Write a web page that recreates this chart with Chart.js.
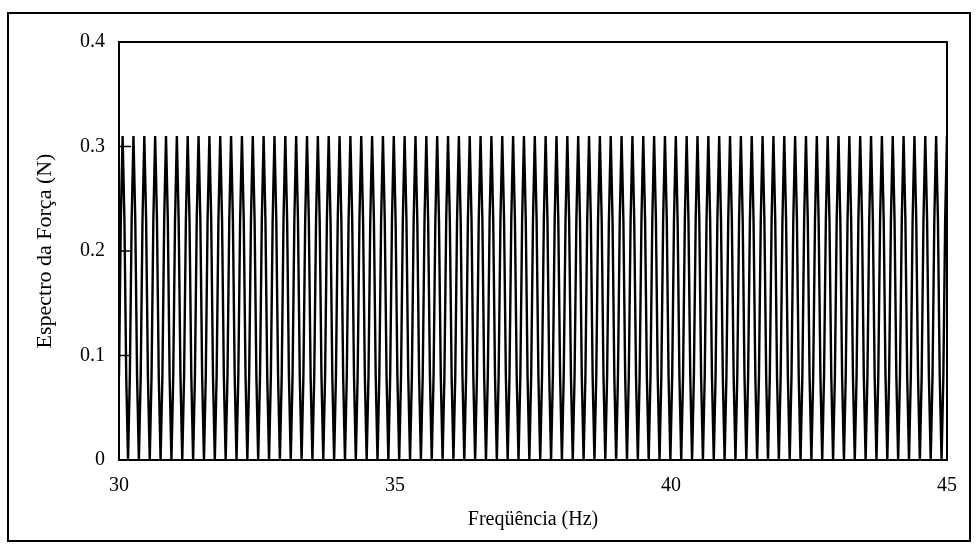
<!DOCTYPE html>
<html>
<head>
<meta charset="utf-8">
<script src="https://cdn.jsdelivr.net/npm/chart.js@4.4.1/dist/chart.umd.min.js"></script>
<style>
  html, body { margin: 0; padding: 0; background: #fff; }
  #wrap { width: 976px; height: 552px; }
</style>
</head>
<body>
<div id="wrap"><canvas id="chart-spectrum"></canvas></div>
<script>
// sampling grid of the spectrum (Hz)
const freqStart = 30;
const freqStep = 0.03275;

// force spectrum (N)
const forceSpectrum = [
  0.08, 0.23,
  0.31, 0.23, 0.08, 0, 0.08, 0.23, 0.31, 0.23, 0.08, 0, 0.08, 0.23, 0.31, 0.23, 0.08, 0, 0.08, 0.23, 0.31, 0.23, 0.08, 0, 0.08, 0.23,
  0.31, 0.23, 0.08, 0, 0.08, 0.23, 0.31, 0.23, 0.08, 0, 0.08, 0.23, 0.31, 0.23, 0.08, 0, 0.08, 0.23, 0.31, 0.23, 0.08, 0, 0.08, 0.23,
  0.31, 0.23, 0.08, 0, 0.08, 0.23, 0.31, 0.23, 0.08, 0, 0.08, 0.23, 0.31, 0.23, 0.08, 0, 0.08, 0.23, 0.31, 0.23, 0.08, 0, 0.08, 0.23,
  0.31, 0.23, 0.08, 0, 0.08, 0.23, 0.31, 0.23, 0.08, 0, 0.08, 0.23, 0.31, 0.23, 0.08, 0, 0.08, 0.23, 0.31, 0.23, 0.08, 0, 0.08, 0.23,
  0.31, 0.23, 0.08, 0, 0.08, 0.23, 0.31, 0.23, 0.08, 0, 0.08, 0.23, 0.31, 0.23, 0.08, 0, 0.08, 0.23, 0.31, 0.23, 0.08, 0, 0.08, 0.23,
  0.31, 0.23, 0.08, 0, 0.08, 0.23, 0.31, 0.23, 0.08, 0, 0.08, 0.23, 0.31, 0.23, 0.08, 0, 0.08, 0.23, 0.31, 0.23, 0.08, 0, 0.08, 0.23,
  0.31, 0.23, 0.08, 0, 0.08, 0.23, 0.31, 0.23, 0.08, 0, 0.08, 0.23, 0.31, 0.23, 0.08, 0, 0.08, 0.23, 0.31, 0.23, 0.08, 0, 0.08, 0.23,
  0.31, 0.23, 0.08, 0, 0.08, 0.23, 0.31, 0.23, 0.08, 0, 0.08, 0.23, 0.31, 0.23, 0.08, 0, 0.08, 0.23, 0.31, 0.23, 0.08, 0, 0.08, 0.23,
  0.31, 0.23, 0.08, 0, 0.08, 0.23, 0.31, 0.23, 0.08, 0, 0.08, 0.23, 0.31, 0.23, 0.08, 0, 0.08, 0.23, 0.31, 0.23, 0.08, 0, 0.08, 0.23,
  0.31, 0.23, 0.08, 0, 0.08, 0.23, 0.31, 0.23, 0.08, 0, 0.08, 0.23, 0.31, 0.23, 0.08, 0, 0.08, 0.23, 0.31, 0.23, 0.08, 0, 0.08, 0.23,
  0.31, 0.23, 0.08, 0, 0.08, 0.23, 0.31, 0.23, 0.08, 0, 0.08, 0.23, 0.31, 0.23, 0.08, 0, 0.08, 0.23, 0.31, 0.23, 0.08, 0, 0.08, 0.23,
  0.31, 0.23, 0.08, 0, 0.08, 0.23, 0.31, 0.23, 0.08, 0, 0.08, 0.23, 0.31, 0.23, 0.08, 0, 0.08, 0.23, 0.31, 0.23, 0.08, 0, 0.08, 0.23,
  0.31, 0.23, 0.08, 0, 0.08, 0.23, 0.31, 0.23, 0.08, 0, 0.08, 0.23, 0.31, 0.23, 0.08, 0, 0.08, 0.23, 0.31, 0.23, 0.08, 0, 0.08, 0.23,
  0.31, 0.23, 0.08, 0, 0.08, 0.23, 0.31, 0.23, 0.08, 0, 0.08, 0.23, 0.31, 0.23, 0.08, 0, 0.08, 0.23, 0.31, 0.23, 0.08, 0, 0.08, 0.23,
  0.31, 0.23, 0.08, 0, 0.08, 0.23, 0.31, 0.23, 0.08, 0, 0.08, 0.23, 0.31, 0.23, 0.08, 0, 0.08, 0.23, 0.31, 0.23, 0.08, 0, 0.08, 0.23,
  0.31, 0.23, 0.08, 0, 0.08, 0.23, 0.31, 0.23, 0.08, 0, 0.08, 0.23, 0.31, 0.23, 0.08, 0, 0.08, 0.23, 0.31, 0.23, 0.08, 0, 0.08, 0.23,
  0.31, 0.23, 0.08, 0, 0.08, 0.23, 0.31, 0.23, 0.08, 0, 0.08, 0.23, 0.31, 0.23, 0.08, 0, 0.08, 0.23, 0.31, 0.23, 0.08, 0, 0.08, 0.23,
  0.31, 0.23, 0.08, 0, 0.08, 0.23, 0.31, 0.23, 0.08, 0, 0.08, 0.23, 0.31, 0.23, 0.08, 0, 0.08, 0.23, 0.31, 0.23, 0.08, 0, 0.08, 0.23,
  0.31, 0.23, 0.08, 0, 0.08, 0.23, 0.31, 0.23, 0.08, 0, 0.08, 0.23, 0.31, 0.23, 0.08, 0, 0.08, 0.23, 0.31, 0.23, 0.08, 0, 0.08, 0.23,
  0.31
];

const xTicks = [30, 35, 40, 45];
const yTicks = [0, 0.1, 0.2, 0.3, 0.4];

const points = forceSpectrum.map((v, i) => ({ x: freqStart + i * freqStep, y: v }));

const serif = 'Liberation Serif, "Times New Roman", serif';

// outer frame + plot box + inward tick marks on the y axis
const framePlugin = {
    id: 'frame',
    beforeDraw(chart) {
        const ctx = chart.ctx;
        ctx.save();
        ctx.fillStyle = '#fff';
        ctx.fillRect(0, 0, chart.width, chart.height);
        ctx.strokeStyle = '#000';
        ctx.lineWidth = 2;
        ctx.strokeRect(8, 13, 962, 528);
        ctx.restore();
    },
    afterDatasetsDraw(chart) {
        const { ctx, chartArea: a, scales } = chart;
        ctx.save();
        ctx.strokeStyle = '#000';
        ctx.lineWidth = 2;
        ctx.strokeRect(a.left, a.top, a.right - a.left, a.bottom - a.top);
        ctx.lineWidth = 1.5;
        yTicks.forEach(t => {
            const y = scales.y.getPixelForValue(t);
            ctx.beginPath();
            ctx.moveTo(a.left, y);
            ctx.lineTo(a.left + 12, y);
            ctx.stroke();
        });
        ctx.restore();
    }
};

new Chart(document.getElementById('chart-spectrum'), {
    type: 'line',
    data: {
        datasets: [{
            label: 'Espectro da Força',
            data: points,
            borderColor: '#000',
            borderWidth: 2.4,
            pointRadius: 0,
            tension: 0,
            fill: false
        }]
    },
    options: {
        responsive: true,
        maintainAspectRatio: false,
        animation: false,
        devicePixelRatio: 1,
        layout: { padding: { top: 42, right: 29, left: 0, bottom: 0 } },
        plugins: { legend: { display: false }, tooltip: { enabled: false } },
        scales: {
            x: {
                type: 'linear',
                min: 30,
                max: 45,
                afterBuildTicks: s => { s.ticks = xTicks.map(v => ({ value: v })); },
                afterFit: s => { s.height = 92; },
                grid: { display: false, drawTicks: false },
                border: { display: false },
                ticks: { color: '#000', padding: 14, font: { family: serif, size: 20 } },
                title: {
                    display: true,
                    text: 'Freqüência (Hz)',
                    color: '#000',
                    padding: { top: 0, bottom: 20 },
                    font: { family: serif, size: 20 }
                }
            },
            y: {
                min: 0,
                max: 0.4,
                afterBuildTicks: s => { s.ticks = yTicks.map(v => ({ value: v })); },
                afterFit: s => { s.width = 119; },
                grid: { display: false, drawTicks: false },
                border: { display: false },
                ticks: {
                    color: '#000',
                    padding: 14,
                    font: { family: serif, size: 20 },
                    callback: v => String(v)
                },
                title: {
                    display: true,
                    text: 'Espectro da Força (N)',
                    color: '#000',
                    padding: { top: 32, bottom: 0 },
                    font: { family: serif, size: 22 }
                }
            }
        }
    },
    plugins: [framePlugin]
});
</script>
</body>
</html>
